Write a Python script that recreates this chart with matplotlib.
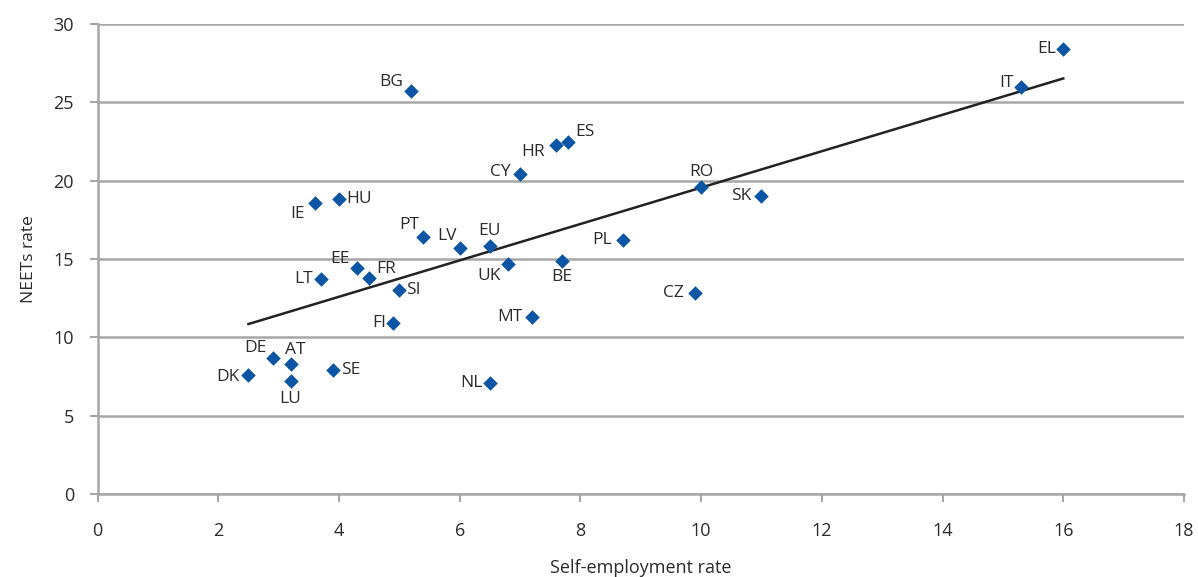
import numpy as np
import matplotlib.pyplot as plt

# Self-employment rate vs NEETs rate, by country
countries = ['EL', 'IT', 'BG', 'ES', 'HR', 'CY', 'RO', 'SK', 'PT', 'LV', 'EU',
             'PL', 'UK', 'BE', 'SI', 'CZ', 'MT', 'NL', 'IE', 'HU', 'EE', 'FR',
             'LT', 'FI', 'DE', 'AT', 'LU', 'DK', 'SE']
self_emp = [16.0, 15.3, 5.2, 7.8, 7.6, 7.0, 10.0, 11.0, 5.4, 6.0, 6.5,
            8.7, 6.8, 7.7, 5.0, 9.9, 7.2, 6.5, 3.6, 4.0, 4.3, 4.5,
            3.7, 4.9, 2.9, 3.2, 3.2, 2.5, 3.9]
neets = [28.4, 26.0, 25.7, 22.5, 22.3, 20.4, 19.6, 19.0, 16.4, 15.7, 15.8,
         16.2, 14.7, 14.9, 13.0, 12.8, 11.3, 7.1, 18.6, 18.8, 14.4, 13.8,
         13.7, 10.9, 8.7, 8.3, 7.2, 7.6, 7.9]
# where each label sits relative to its marker (offset in points, h-align)
label_pos = {
    'EL': (-5, 0, 'right'), 'IT': (-5, 3, 'right'),
    'BG': (-6, 7, 'right'), 'ES': (5, 7, 'left'),
    'HR': (-8, -5, 'right'), 'CY': (-7, 1.5, 'right'),
    'RO': (0, 11, 'center'), 'SK': (-7, 0, 'right'),
    'PT': (-3, 9, 'right'), 'LV': (-2, 8.5, 'right'),
    'EU': (0, 11, 'center'), 'PL': (-8, 0, 'right'),
    'UK': (-5, -8.5, 'right'), 'BE': (0, -11.5, 'center'),
    'SI': (5, 0, 'left'), 'CZ': (-8, 0, 'right'),
    'MT': (-7, 0, 'right'), 'NL': (-5, 0, 'right'),
    'IE': (-7, -8, 'right'), 'HU': (5, 0, 'left'),
    'EE': (-5, 6.5, 'right'), 'FR': (5, 6.5, 'left'),
    'LT': (-6, 0, 'right'), 'FI': (-5, 0, 'right'),
    'DE': (-4, 7, 'right'), 'AT': (-4, 10, 'left'),
    'LU': (0, -13, 'center'), 'DK': (-6, -1.5, 'right'),
    'SE': (6, 0, 'left'),
}

plt.rcParams['font.family'] = ['Open Sans', 'DejaVu Sans']
text_col = '#2b2b2b'
grid_col = '#a6a6a6'

fig = plt.figure(figsize=(11.98, 5.77), dpi=100)
ax = fig.add_axes([0.0814, 0.1438, 0.9069, 0.8146])

ax.set_xlim(0, 18)
ax.set_ylim(0, 30)
ax.set_xticks(range(0, 19, 2))
ax.set_yticks(range(0, 31, 5))

ax.yaxis.grid(True, color=grid_col, linewidth=1.8)
ax.set_axisbelow(True)
for s in ['top', 'right']:
    ax.spines[s].set_visible(False)
for s in ['left', 'bottom']:
    ax.spines[s].set_color(grid_col)
    ax.spines[s].set_linewidth(1.8)
ax.tick_params(axis='both', colors=grid_col, width=1.5, length=6,
               labelcolor=text_col, labelsize=13)
ax.tick_params(axis='x', pad=14)
ax.tick_params(axis='y', pad=11)

# linear trend across the countries
x = np.array(self_emp)
y = np.array(neets)
mask = np.array([c != 'EU' for c in countries])
slope, icpt = np.polyfit(x[mask], y[mask], 1)
xs = np.array([x.min(), x.max()])
ax.plot(xs, slope * xs + icpt, color='#222222', linewidth=1.8, zorder=2)

ax.scatter(x, y, marker='D', s=55, color='#0a56a5', zorder=3, linewidths=0)

for c, xi, yi in zip(countries, self_emp, neets):
    dx, dy, ha = label_pos[c]
    ax.annotate(c, (xi, yi), xytext=(dx, dy), textcoords='offset points',
                ha=ha, va='center', fontsize=12.5, color=text_col)

ax.set_xlabel('Self-employment rate', fontsize=13, color=text_col, labelpad=14)
ax.set_ylabel('NEETs rate', fontsize=12.5, color=text_col, labelpad=12)

fig.savefig('out.png', dpi=100)
